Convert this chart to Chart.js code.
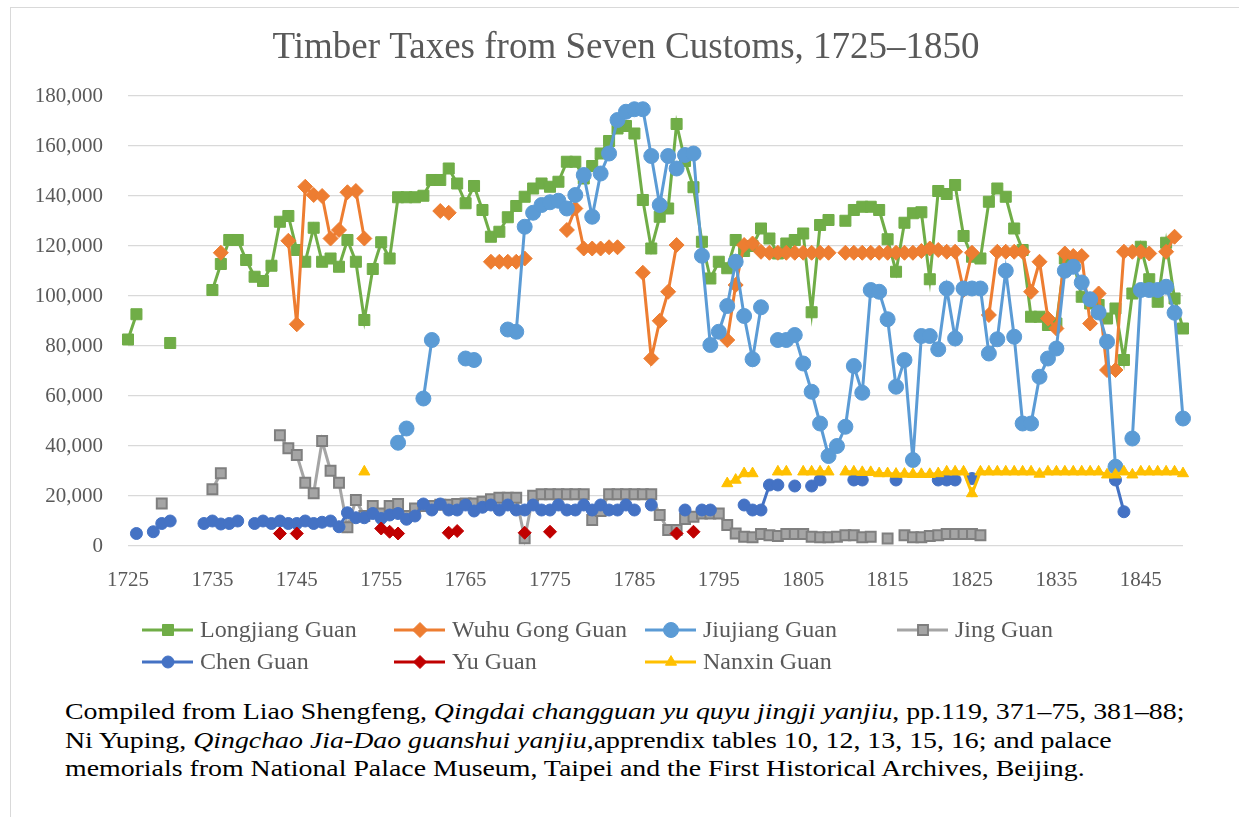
<!DOCTYPE html>
<html>
<head>
<meta charset="utf-8">
<script src="https://cdn.jsdelivr.net/npm/chart.js@4.4.0/dist/chart.umd.min.js"></script>
<style>
  body { margin: 0; background: #fff; }
  #frame { position: absolute; left: 10px; top: 7px; width: 1240px; height: 830px; border: 1px solid #d9d9d9; }
  #wrap { position: absolute; left: 0; top: 0; width: 1239px; height: 690px; }
  #note { position: absolute; left: 65px; top: 697px; font-family: "Liberation Serif", serif; font-size: 24px;
          line-height: 28.5px; color: #000; white-space: nowrap; transform: scaleX(1.16); transform-origin: 0 0; }
</style>
</head>
<body>
<div id="frame"></div>
<div id="wrap"><canvas id="chart" width="1239" height="690"></canvas></div>
<div id="note">
  Compiled from Liao Shengfeng, <i>Qingdai changguan yu quyu jingji yanjiu</i>, pp.119, 371–75, 381–88;<br>
  Ni Yuping, <i>Qingchao Jia-Dao guanshui yanjiu</i>,apprendix tables 10, 12, 13, 15, 16; and palace<br>
  memorials from National Palace Museum, Taipei and the First Historical Archives, Beijing.
</div>
<script>
(function () {
    'use strict';

    var _ = null;

    // years on the category axis, 1725 .. 1850
    var years = [];
    for (var y = 1725; y <= 1850; y++) years.push(y);

    var chartTitle = 'Timber Taxes from Seven Customs, 1725–1850';

    // one row per decade, starting 1725, 1735, ...
    var longjiang = [
        82600, 92700, _, _, _, 81200, _, _, _, _,
        102400, 112800, 122400, 122400, 114400, 107700, 106000, 112100, 129700, 132000,
        118400, 113700, 127300, 113700, 115000, 111700, 122400, 113700, 90400, 110800,
        121500, 115000, 139500, 139500, 139500, 140100, 146400, 146400, 151000, 145000,
        137100, 144000, 134400, 123700, 125700, 131500, 136000, 139700, 143000, 145000,
        143700, 145700, 153700, 153700, 147000, 152000, 157000, 162000, 167000, 168000,
        165000, 138400, 119000, 131700, 135000, 168800, 154000, 143500, 121700, 107000,
        113700, 111100, 122400, 118000, 120000, 127000, 123000, 117000, 121000, 122400,
        125000, 93500, 128400, 130400, _, 130100, 134400, 135700, 135700, 134400,
        122700, 109700, 129300, 133100, 133500, 106700, 142000, 140800, 144400, 124000,
        115700, 115000, 137700, 143000, 139700, 127000, 118400, 91700, 91700, 88400,
        89000, 115000, 114000, 99700, 97000, 96400, 91000, 95000, 74400, 101000,
        119700, 106700, 97700, 121300, 99000, 87000
    ];
    var wuhu = [
        _, _, _, _, _, _, _, _, _, _,
        _, 117300, _, _, _, _, _, _, _, 122100,
        88700, 143700, 140400, 140000, 123000, 126400, 141500, 142000, 123000, _,
        _, _, _, _, _, _, _, 134000, 133300, _,
        _, _, _, 113700, 113700, 113700, 113700, 115000, _, _,
        _, _, 126400, 135000, 119000, 119000, 119000, 119500, 119500, _,
        _, 109300, 75000, 90100, 101700, 120400, _, _, _, _,
        _, 82400, 104400, 120400, 121000, 117700, 117300, 117300, 117300, 117300,
        117300, 117300, 117300, 117300, _, 117300, 117300, 117300, 117300, 117300,
        117300, 117300, 117300, 117300, 118000, 119000, 118400, 117700, 117700, 102400,
        117300, _, 92400, 117700, 117700, 117700, 117700, 101700, 113700, 91000,
        87000, 117000, 116000, 116000, 89000, 101000, 70400, 70400, 117700, 117700,
        117700, 117000, _, 117700, 123700, _
    ];
    var jiujiang = [
        _, _, _, _, _, _, _, _, _, _,
        _, _, _, _, _, _, _, _, _, _,
        _, _, _, _, _, _, _, _, _, _,
        _, _, 41300, 47000, _, 59000, 82400, _, _, _,
        75000, 74400, _, _, _, 86600, 85700, 127700, 133300, 136400,
        137500, 138100, 135000, 140400, 148400, 131700, 149000, 157000, 170400, 173700,
        174700, 174700, 156000, 136400, 156000, 151000, 156400, 157000, 116100, 80400,
        85700, 96000, 113700, 92000, 74700, 95500, _, 82400, 82400, 84400,
        73000, 61700, 49000, 36000, 40000, 47700, 72000, 61300, 102400, 101700,
        90700, 63700, 74400, 34400, 84000, 84000, 78700, 103000, 83000, 103000,
        103000, 103000, 77000, 82700, 110100, 83700, 49000, 49000, 67700, 75000,
        79000, 110100, 111700, 105400, 98700, 93400, 81700, 31700, _, 43000,
        102400, 102400, 102400, 103700, 93300, 51000
    ];
    var jing = [
        _, _, _, _, 17000, _, _, _, _, _,
        22700, 29100, _, _, _, _, _, _, 44300, 39100,
        36400, 25300, 21100, 42000, 30100, 25300, 7500, 18400, 12000, 16000,
        13000, 16000, 16800, 12000, 15000, 16000, 16000, 16500, 16500, 16800,
        17000, 17000, 17700, 18700, 19300, 19300, 19300, 3100, 20100, 20700,
        20700, 20700, 20700, 20700, 20700, 10400, 14000, 20700, 20700, 20700,
        20700, 20700, 20700, 12400, 6400, 6400, 10800, 11700, 13000, 13000,
        13000, 8400, 5000, 3700, 3500, 4800, 4300, 4000, 4800, 4800,
        4800, 3700, 3500, 3500, 3700, 4300, 4300, 3500, 3700, _,
        3000, _, 4300, 3500, 3500, 4000, 4300, 4800, 4800, 4800,
        4800, 4300, _, _, _, _, _, _, _, _,
        _, _, _, _, _, _, _, _, _, _,
        _, _, _, _, _, _
    ];
    var chen = [
        _, 5000, _, 5700, 9000, 10000, _, _, _, 9000,
        10000, 8800, 9000, 10000, _, 9000, 10000, 9000, 10000, 9000,
        9000, 10000, 9000, 9500, 10000, 7700, 13300, 11300, 11300, 13000,
        11000, 12400, 13000, 10700, 12000, 16800, 14400, 16800, 14400, 14400,
        16400, 14000, 15500, 16400, 14400, 16400, 14400, 14400, 16400, 14400,
        14400, 16400, 14400, 14400, 16400, 14400, 16400, 14400, 14400, 16400,
        14400, _, 16400, _, _, _, 14400, _, 14400, 14400,
        _, _, _, 16400, 14400, 14400, 24400, 24400, _, 24000,
        _, 24000, 26400, _, _, _, 26400, 26400, _, _,
        _, 26400, _, _, _, _, 26400, 26400, 26400, _,
        27000, _, _, _, _, _, _, _, _, _,
        _, _, _, _, _, _, _, 26400, 13700, _,
        _, _, _, _, _, _
    ];
    var yu = [
        _, _, _, _, _, _, _, _, _, _,
        _, _, _, _, _, _, _, _, 5000, _,
        5000, _, _, _, _, _, _, _, _, _,
        7000, 5700, 5000, _, _, _, _, _, 5300, 6000,
        _, _, _, _, _, _, _, 5300, _, _,
        5700, _, _, _, _, _, _, _, _, _,
        _, _, _, _, _, 5000, _, 5700, _, _,
        _, _, _, _, _, _, _, _, _, _,
        _, _, _, _, _, _, _, _, _, _,
        _, _, _, _, _, _, _, _, _, _,
        _, _, _, _, _, _, _, _, _, _,
        _, _, _, _, _, _, _, _, _, _,
        _, _, _, _, _, _
    ];
    var nanxin = [
        _, _, _, _, _, _, _, _, _, _,
        _, _, _, _, _, _, _, _, _, _,
        _, _, _, _, _, _, _, _, 29700, _,
        _, _, _, _, _, _, _, _, _, _,
        _, _, _, _, _, _, _, _, _, _,
        _, _, _, _, _, _, _, _, _, _,
        _, _, _, _, _, _, _, _, _, _,
        _, 25000, 26400, 29000, 29000, _, _, 29700, 29700, _,
        29700, 29700, 29700, 29700, _, 29700, 29700, 29500, 29500, 29000,
        29000, 28800, 28800, 28700, 28700, 28700, 29000, 29700, 29700, 29700,
        21000, 29700, 29700, 29700, 29700, 29700, 29700, 29700, 28800, 29700,
        29700, 29700, 29700, 29700, 29700, 29700, 28500, 28500, 29700, 28500,
        29700, 29700, 29700, 29700, 29700, 29000
    ];

    var serif = '"Liberation Serif", "Times New Roman", serif';
    var textGrey = '#595959';

    function series(label, data, color, style, radius, order, extra) {
        var ds = {
            label: label,
            data: data,
            borderColor: color,
            backgroundColor: color,
            borderWidth: 3,
            pointStyle: style,
            pointRadius: radius,
            pointHoverRadius: radius,
            pointBackgroundColor: color,
            pointBorderColor: color,
            pointBorderWidth: 1,
            tension: 0,
            spanGaps: false,
            clip: false,
            order: order
        };
        for (var k in extra) ds[k] = extra[k];
        return ds;
    }

    var datasets = [
        series('Longjiang Guan', longjiang, '#70AD47', 'rect', 7.8, 7),
        series('Wuhu Gong Guan', wuhu, '#ED7D31', 'rectRot', 7.5, 6),
        series('Jiujiang Guan', jiujiang, '#5B9BD5', 'circle', 7.5, 5),
        series('Jing Guan', jing, '#A5A5A5', 'rect', 7, 4, { pointBorderColor: '#7F7F7F', pointBorderWidth: 2 }),
        series('Chen Guan', chen, '#4472C4', 'circle', 6, 3),
        series('Yu Guan', yu, '#C00000', 'rectRot', 6.5, 2),
        series('Nanxin Guan', nanxin, '#FFC000', 'triangle', 6.4, 1)
    ];

    function drawMarker(ctx, ds, x, y) {
        var r = ds.pointRadius;
        ctx.beginPath();
        if (ds.pointStyle === 'rect') {
            var s = Math.SQRT1_2 * r;
            ctx.rect(x - s, y - s, 2 * s, 2 * s);
        } else if (ds.pointStyle === 'rectRot') {
            ctx.moveTo(x - r, y); ctx.lineTo(x, y - r); ctx.lineTo(x + r, y); ctx.lineTo(x, y + r);
            ctx.closePath();
        } else if (ds.pointStyle === 'triangle') {
            ctx.moveTo(x, y - r);
            ctx.lineTo(x + r * 0.866, y + r * 0.5);
            ctx.lineTo(x - r * 0.866, y + r * 0.5);
            ctx.closePath();
        } else {
            ctx.arc(x, y, r, 0, Math.PI * 2);
        }
        ctx.fillStyle = ds.pointBackgroundColor;
        ctx.fill();
        ctx.lineWidth = ds.pointBorderWidth;
        ctx.strokeStyle = ds.pointBorderColor;
        ctx.stroke();
    }

    // title and two-row legend, drawn at fixed places like the original
    var decorations = {
        id: 'decorations',
        afterDraw: function (chart) {
            var ctx = chart.ctx;
            ctx.save();
            ctx.fillStyle = textGrey;
            ctx.font = '37px ' + serif;
            ctx.textAlign = 'center';
            ctx.textBaseline = 'middle';
            ctx.fillText(chartTitle, 626, 48);

            var colX = [200, 452, 703, 955];
            var rowY = [630, 662];
            ctx.font = '24px ' + serif;
            ctx.textAlign = 'left';
            chart.data.datasets.forEach(function (ds, i) {
                var tx = colX[i % 4], ty = rowY[Math.floor(i / 4)];
                ctx.beginPath();
                ctx.moveTo(tx - 58, ty);
                ctx.lineTo(tx - 7, ty);
                ctx.lineWidth = 3;
                ctx.strokeStyle = ds.borderColor;
                ctx.stroke();
                drawMarker(ctx, ds, tx - 32, ty);
                ctx.fillStyle = textGrey;
                ctx.fillText(ds.label, tx, ty + 1);
            });
            ctx.restore();
        }
    };

    new Chart(document.getElementById('chart').getContext('2d'), {
        type: 'line',
        data: { labels: years, datasets: datasets },
        options: {
            responsive: false,
            animation: false,
            devicePixelRatio: 1,
            layout: { padding: { top: 96, right: 56, bottom: 84, left: 0 } },
            plugins: { legend: { display: false }, title: { display: false }, tooltip: { enabled: false } },
            scales: {
                x: {
                    type: 'category',
                    offset: false,
                    grid: { display: false },
                    border: { display: false },
                    ticks: {
                        autoSkip: false,
                        maxRotation: 0,
                        minRotation: 0,
                        padding: 14,
                        color: textGrey,
                        font: { family: serif, size: 21 },
                        callback: function (v, i) {
                            return (years[i] - 1725) % 10 === 0 ? String(years[i]) : '';
                        }
                    },
                    afterFit: function (s) { s.height = 60; }
                },
                y: {
                    min: 0,
                    max: 180000,
                    grid: { color: '#d9d9d9', lineWidth: 1.3, drawTicks: false },
                    border: { display: false },
                    ticks: {
                        stepSize: 20000,
                        padding: 25,
                        color: textGrey,
                        font: { family: serif, size: 21 },
                        callback: function (v) { return v.toLocaleString('en-US'); }
                    },
                    afterFit: function (s) { s.width = 128; }
                }
            }
        },
        plugins: [decorations]
    });
})();
</script>
</body>
</html>
